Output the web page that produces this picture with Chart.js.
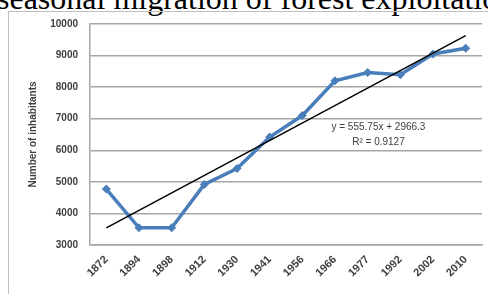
<!DOCTYPE html>
<html>
<head>
<meta charset="utf-8">
<script src="https://cdn.jsdelivr.net/npm/chart.js"></script>
<style>
  html, body { margin: 0; padding: 0; background: #fff; overflow: hidden; }
  #page { position: relative; width: 488px; height: 294px; overflow: hidden; }
  #caption {
    position: absolute; left: -3px; top: -18px; white-space: nowrap;
    font-family: "Liberation Serif", "Times New Roman", serif; font-size: 32px; line-height: 32px; color: #000;
  }
  #frame {
    position: absolute; left: 8px; top: 11px; width: 500px; height: 300px;
    border: 1px solid #bfbfbf; box-sizing: border-box;
  }
  #chart { position: absolute; left: 0; top: 0; }
</style>
</head>
<body>
<div id="page">
  <div id="caption">seasonal migration of forest exploitation</div>
  <div id="frame"></div>
  <canvas id="chart" width="488" height="294"></canvas>
</div>
<script>
// census years and population
const years = ['1872', '1894', '1898', '1912', '1930', '1941', '1956', '1966', '1977', '1992', '2002', '2010'];
const inhabitants = [4770, 3545, 3545, 4920, 5420, 6420, 7100, 8200, 8460, 8390, 9050, 9230];

// linear trend line ends
const trendYears = ['1872', '2010'];
const trendValues = [3540, 9630];
const trendLabel = ['y = 555.75x + 2966.3', 'R\u00b2 = 0.9127'];

const yTicks = { min: 3000, max: 10000, step: 1000 };

const gridGray = '#a6a6a6';
const textGray = '#404040';

// writes the regression equation inside the plot
const equationPlugin = {
  id: 'equation',
  afterDatasetsDraw(chart) {
    const x = chart.scales.x.getPixelForValue(8.33);
    const y1 = chart.scales.y.getPixelForValue(6730);
    const y2 = chart.scales.y.getPixelForValue(6260);
    const c = chart.ctx;
    c.save();
    c.font = '10px "Liberation Sans"';
    c.fillStyle = textGray;
    c.textAlign = 'center';
    c.textBaseline = 'middle';
    c.fillText(trendLabel[0], x, y1);
    c.fillText(trendLabel[1], x, y2);
    c.restore();
  }
};

new Chart(document.getElementById('chart'), {
  type: 'line',
  data: {
    labels: years,
    datasets: [
      {
        label: 'Linear trend',
        data: trendYears.map((yr, i) => ({ x: yr, y: trendValues[i] })),
        borderColor: '#000',
        borderWidth: 1.5,
        pointRadius: 0,
        order: 0
      },
      {
        label: 'Inhabitants',
        data: inhabitants,
        borderColor: '#4a7ebb',
        backgroundColor: '#4a7ebb',
        borderWidth: 3.5,
        pointStyle: 'rectRot',
        pointRadius: 4.5,
        pointBorderWidth: 0,
        tension: 0,
        order: 1
      }
    ]
  },
  options: {
    responsive: false,
    animation: false,
    layout: { padding: { left: 27, right: 6, top: 24, bottom: 0 } },
    plugins: { legend: { display: false }, tooltip: { enabled: false } },
    scales: {
      x: {
        offset: true,
        grid: { display: false },
        border: { display: true, color: gridGray, width: 1.5 },
        ticks: {
          minRotation: 45, maxRotation: 45, color: textGray, padding: 0,
          font: { family: 'Liberation Sans', size: 11, weight: 'bold' }
        },
        afterFit(scale) { scale.height = 49; }
      },
      y: {
        min: yTicks.min,
        max: yTicks.max,
        ticks: {
          stepSize: yTicks.step, color: textGray, padding: 12,
          font: { family: 'Liberation Sans', size: 10, weight: 'bold' },
          callback: v => String(v)
        },
        grid: { color: gridGray, lineWidth: 1.5, drawTicks: false },
        border: { display: true, color: gridGray, width: 1.5 },
        title: {
          display: true, text: 'Number of inhabitants', color: textGray, padding: 0,
          font: { family: 'Liberation Sans', size: 10, weight: 'bold' }
        },
        afterFit(scale) { scale.width = 63; }
      }
    }
  },
  plugins: [equationPlugin]
});
</script>
</body>
</html>
